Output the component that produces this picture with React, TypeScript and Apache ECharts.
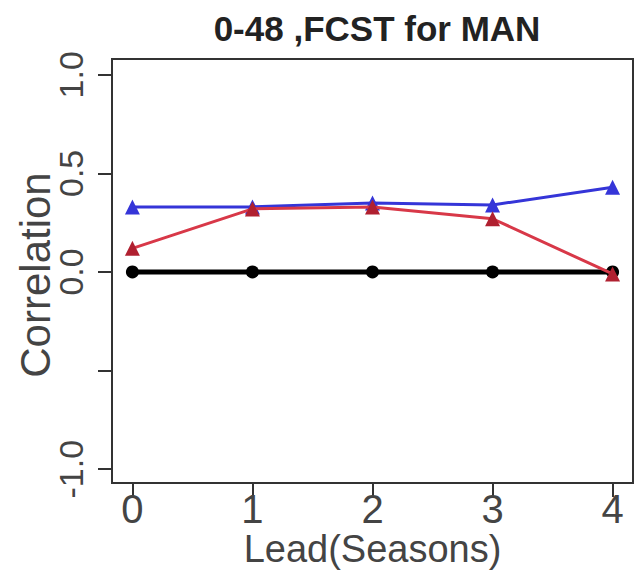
import React, { useEffect, useRef } from "react";
import * as echarts from "echarts";

const titleText = "0-48 ,FCST for MAN";
const leads = [0, 1, 2, 3, 4];
const blueSeries = [0.33, 0.33, 0.35, 0.34, 0.43];
const redSeries = [0.12, 0.32, 0.33, 0.27, -0.01];
const blackSeries = [0, 0, 0, 0, 0];
const yTicks = [-1, -0.5, 0, 0.5, 1];
const yLabels = [-1, 0, 0.5, 1];
const xTicks = [0, 1, 2, 3, 4];

const pairs = (ys: number[]) => leads.map((x, i) => [x, ys[i]]);

export default function App() {
  const ref = useRef<HTMLDivElement>(null);
  useEffect(() => {
    if (!ref.current) return;
    const chart = echarts.init(ref.current, null, { renderer: "svg" });
    const font = "'Liberation Sans', Arial, sans-serif";
    chart.setOption({
      animation: false,
      backgroundColor: "#ffffff",
      title: {
        text: titleText,
        left: 372,
        top: 6,
        textAlign: "center",
        textStyle: { fontFamily: font, fontWeight: "bold", fontSize: 35, color: "#222" },
      },
      grid: {
        left: 112,
        top: 59,
        right: 11,
        bottom: 87,
        outerBoundsMode: "none",
        containLabel: false,
        show: true,
        borderColor: "#333",
        borderWidth: 2,
        backgroundColor: "transparent",
      },
      xAxis: {
        type: "value",
        min: -0.17,
        max: 4.17,
        name: "Lead(Seasons)",
        nameLocation: "middle",
        nameGap: 47,
        nameMoveOverlap: false,
        nameTextStyle: { fontFamily: font, fontSize: 38, color: "#444", lineHeight: 38 },
        axisLine: { show: false, onZero: false },
        splitLine: { show: false },
        axisTick: { show: true, length: 14, lineStyle: { color: "#333", width: 2 }, customValues: xTicks },
        axisLabel: {
          fontFamily: font,
          fontSize: 40,
          lineHeight: 40,
          color: "#444",
          margin: 6,
          customValues: xTicks,
        },
      },
      yAxis: {
        type: "value",
        min: -1.07,
        max: 1.08,
        name: "Correlation",
        nameLocation: "middle",
        nameGap: 56,
        nameRotate: 90,
        nameMoveOverlap: false,
        nameTextStyle: { fontFamily: font, fontSize: 42, color: "#444", padding: [0, 8, 0, 0] },
        axisLine: { show: false, onZero: false },
        splitLine: { show: false },
        axisTick: { show: true, length: 14, lineStyle: { color: "#333", width: 2 }, customValues: yTicks },
        axisLabel: {
          fontFamily: font,
          fontSize: 34,
          color: "#444",
          rotate: 90,
          margin: 24,
          customValues: yLabels,
          formatter: (v: number) => v.toFixed(1),
        },
      },
      series: [
        {
          type: "line",
          data: pairs(blueSeries),
          lineStyle: { color: "#3535d8", width: 3 },
          itemStyle: { color: "#3535d8" },
          symbol: "triangle",
          symbolSize: 15,
          z: 2,
        },
        {
          type: "line",
          data: pairs(blackSeries),
          lineStyle: { color: "#000", width: 5 },
          itemStyle: { color: "#000" },
          symbol: "circle",
          symbolSize: 13,
          z: 3,
        },
        {
          type: "line",
          data: pairs(redSeries),
          lineStyle: { color: "#d83848", width: 3 },
          itemStyle: { color: "#b02030" },
          symbol: "triangle",
          symbolSize: 15,
          z: 4,
        },
      ],
    });
    return () => chart.dispose();
  }, []);
  return (
    <div
      ref={ref}
      style={{ position: "absolute", left: 0, top: 0, width: 644, height: 570 }}
    />
  );
}
